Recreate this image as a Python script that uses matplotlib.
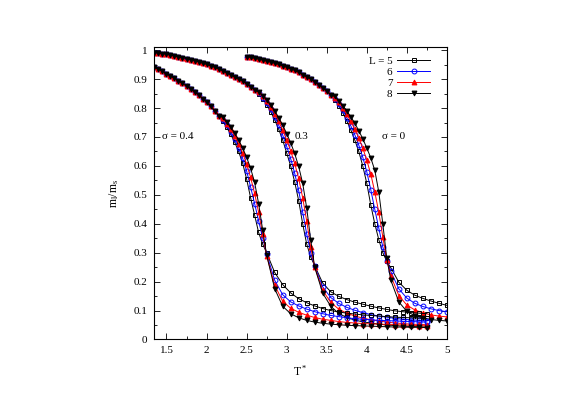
import matplotlib

matplotlib.use("Agg")
import matplotlib.pyplot as plt
from matplotlib.ticker import MultipleLocator

plt.rcParams["font.family"] = ["Liberation Serif", "DejaVu Serif"]
plt.rcParams["mathtext.fontset"] = "custom"
plt.rcParams["mathtext.rm"] = "Liberation Serif"
plt.rcParams["mathtext.it"] = "Liberation Serif:italic"

sizes = ["L = 5", "6", "7", "8"]

# sigma = 0.4
t_04 = [1.35, 1.40, 1.45, 1.50, 1.55, 1.60, 1.65, 1.70, 1.75, 1.80, 1.85, 1.90,
        1.95, 2.00, 2.05, 2.10, 2.15,
        2.20, 2.25, 2.30, 2.35, 2.40, 2.45, 2.50, 2.55, 2.60, 2.65, 2.70, 2.75,
        2.85, 2.95, 3.05, 3.15, 3.25, 3.35, 3.45, 3.55, 3.65, 3.75, 3.85, 3.95,
        4.05, 4.15, 4.25, 4.35, 4.45, 4.55, 4.65, 4.75]
top_04 = [0.941, 0.934, 0.927, 0.919, 0.911, 0.903, 0.894, 0.885, 0.876, 0.866,
          0.856, 0.845, 0.833, 0.820, 0.806, 0.791, 0.774]
m_04 = [
    [0.755, 0.734, 0.710, 0.683, 0.650, 0.610, 0.555, 0.490, 0.430, 0.370, 0.330, 0.300,
     0.232, 0.190, 0.161, 0.141, 0.127, 0.116, 0.107, 0.100, 0.095, 0.091, 0.088, 0.085,
     0.083, 0.081, 0.079, 0.077, 0.076, 0.075, 0.074, 0.073],
    [0.760, 0.740, 0.718, 0.693, 0.663, 0.627, 0.583, 0.527, 0.470, 0.410, 0.352, 0.297,
     0.205, 0.155, 0.130, 0.116, 0.105, 0.096, 0.089, 0.083, 0.079, 0.075, 0.072, 0.070,
     0.068, 0.066, 0.065, 0.064, 0.063, 0.062, 0.061, 0.060],
    [0.764, 0.746, 0.726, 0.703, 0.677, 0.645, 0.607, 0.560, 0.505, 0.440, 0.365, 0.290,
     0.188, 0.132, 0.108, 0.094, 0.084, 0.076, 0.070, 0.066, 0.062, 0.059, 0.057, 0.055,
     0.054, 0.053, 0.052, 0.051, 0.050, 0.049, 0.048, 0.047],
    [0.768, 0.752, 0.734, 0.713, 0.690, 0.662, 0.630, 0.592, 0.543, 0.470, 0.380, 0.292,
     0.176, 0.115, 0.089, 0.075, 0.066, 0.060, 0.056, 0.053, 0.051, 0.049, 0.048, 0.047,
     0.046, 0.045, 0.044, 0.043, 0.043, 0.042, 0.042, 0.041],
]

# sigma = 0.3
t_03 = [1.35, 1.40, 1.45, 1.50, 1.55, 1.60, 1.65, 1.70, 1.75, 1.80, 1.85, 1.90,
        1.95, 2.00, 2.05, 2.10, 2.15, 2.20, 2.25, 2.30, 2.35, 2.40, 2.45, 2.50,
        2.55, 2.60,
        2.65, 2.70, 2.75, 2.80, 2.85, 2.90, 2.95, 3.00, 3.05, 3.10, 3.15, 3.20,
        3.25, 3.30, 3.35,
        3.45, 3.55, 3.65, 3.75, 3.85, 3.95, 4.05, 4.15, 4.25, 4.35, 4.45, 4.55,
        4.65, 4.75]
top_03 = [0.992, 0.990, 0.988, 0.986, 0.983, 0.980, 0.977, 0.974, 0.971, 0.967,
          0.964, 0.960, 0.955, 0.951, 0.946, 0.941, 0.935, 0.929, 0.922, 0.915,
          0.907, 0.899, 0.893, 0.884, 0.874, 0.863]
m_03 = [
    [0.848, 0.832, 0.812, 0.788, 0.760, 0.727, 0.690, 0.645, 0.600, 0.545, 0.480, 0.400,
     0.330, 0.285, 0.255,
     0.195, 0.165, 0.149, 0.138, 0.129, 0.122, 0.115, 0.109, 0.104, 0.099, 0.096, 0.093,
     0.091, 0.089],
    [0.851, 0.836, 0.818, 0.796, 0.770, 0.741, 0.707, 0.668, 0.625, 0.575, 0.515, 0.440,
     0.365, 0.300, 0.253,
     0.182, 0.145, 0.125, 0.111, 0.101, 0.093, 0.086, 0.081, 0.077, 0.073, 0.070, 0.068,
     0.066, 0.064],
    [0.854, 0.840, 0.823, 0.803, 0.780, 0.754, 0.724, 0.690, 0.652, 0.609, 0.557, 0.490,
     0.410, 0.320, 0.250,
     0.170, 0.128, 0.105, 0.091, 0.081, 0.074, 0.068, 0.064, 0.060, 0.057, 0.055, 0.053,
     0.052, 0.051],
    [0.856, 0.843, 0.828, 0.810, 0.790, 0.767, 0.741, 0.712, 0.680, 0.643, 0.598, 0.540,
     0.455, 0.345, 0.250,
     0.160, 0.115, 0.090, 0.076, 0.067, 0.061, 0.057, 0.053, 0.050, 0.048, 0.046, 0.045,
     0.044, 0.043],
]

# sigma = 0
t_00 = [2.50, 2.55, 2.60, 2.65, 2.70, 2.75, 2.80, 2.85, 2.90, 2.95, 3.00, 3.05,
        3.10, 3.15, 3.20, 3.25, 3.30, 3.35, 3.40, 3.45, 3.50, 3.55,
        3.60, 3.65, 3.70, 3.75, 3.80, 3.85, 3.90, 3.95, 4.00, 4.05, 4.10, 4.15,
        4.20, 4.25, 4.30,
        4.40, 4.50, 4.60, 4.70, 4.80, 4.90, 5.00]
top_00 = [0.978, 0.975, 0.972, 0.969, 0.966, 0.962, 0.959, 0.955, 0.951, 0.946,
          0.941, 0.936, 0.930, 0.923, 0.916, 0.908, 0.900, 0.891, 0.881, 0.870,
          0.858, 0.845]
m_00 = [
    [0.828, 0.808, 0.784, 0.756, 0.725, 0.690, 0.650, 0.600, 0.540, 0.465, 0.400, 0.345,
     0.300, 0.270, 0.248,
     0.198, 0.170, 0.153, 0.142, 0.133, 0.125, 0.118],
    [0.832, 0.814, 0.792, 0.767, 0.739, 0.708, 0.672, 0.630, 0.580, 0.518, 0.450, 0.385,
     0.320, 0.272, 0.235,
     0.175, 0.143, 0.125, 0.114, 0.106, 0.100, 0.096],
    [0.836, 0.820, 0.800, 0.778, 0.754, 0.727, 0.697, 0.662, 0.620, 0.572, 0.510, 0.440,
     0.355, 0.275, 0.220,
     0.152, 0.119, 0.102, 0.092, 0.085, 0.081, 0.078],
    [0.840, 0.825, 0.808, 0.790, 0.770, 0.748, 0.722, 0.694, 0.662, 0.628, 0.585, 0.510,
     0.400, 0.280, 0.205,
     0.130, 0.097, 0.082, 0.074, 0.069, 0.066, 0.064],
]

styles = [
    dict(color="black", marker="s", mfc="none", mec="black"),
    dict(color="blue", marker="o", mfc="none", mec="blue"),
    dict(color="red", marker="^", mfc="red", mec="red"),
    dict(color="black", marker="v", mfc="black", mec="black"),
]


def plot_family(ax, temps, top, curves, with_label=False):
    for i, tail in enumerate(curves):
        ax.plot(
            temps,
            top + tail,
            lw=0.7,
            ms=3.5,
            mew=0.7,
            label=sizes[i] if with_label else None,
            **styles[i],
        )


fig = plt.figure(figsize=(5.88, 4.15), dpi=100)
ax = fig.add_axes([0.262, 0.182, 0.498, 0.704])

plot_family(ax, t_00, top_00, m_00, with_label=True)
plot_family(ax, t_03, top_03, m_03)
plot_family(ax, t_04, top_04, m_04)

ax.set_xlim(1.345, 5.0)
ax.set_ylim(0, 1.01)
ax.xaxis.set_minor_locator(MultipleLocator(0.25))
ax.yaxis.set_minor_locator(MultipleLocator(0.05))
ax.set_xticks([1.5, 2, 2.5, 3, 3.5, 4, 4.5, 5])
ax.set_xticklabels(["1.5", "2", "2.5", "3", "3.5", "4", "4.5", "5"])
ax.set_yticks([0, 0.1, 0.2, 0.3, 0.4, 0.5, 0.6, 0.7, 0.8, 0.9, 1.0])
ax.set_yticklabels(["0", "0.1", "0.2", "0.3", "0.4", "0.5", "0.6", "0.7", "0.8", "0.9", "1"])
ax.tick_params(which="both", direction="in", top=True, right=True, labelsize=8, width=0.6)
ax.tick_params(which="major", length=4, pad=5)
ax.tick_params(which="minor", length=2.5)
for sp in ax.spines.values():
    sp.set_linewidth(0.8)

ax.set_xlabel(r"T$^*$", fontsize=8.5, labelpad=6)
ax.set_ylabel(r"m$_{\rm l}$/m$_{\rm s}$", fontsize=8.5, labelpad=9)

ax.text(1.44, 0.70, "σ = 0.4", fontsize=8, va="center")
ax.text(3.19, 0.70, "0.3", fontsize=8, va="center", ha="center")
ax.text(4.34, 0.70, "σ = 0", fontsize=8, va="center", ha="center")

ax.legend(
    loc="upper right",
    bbox_to_anchor=(0.97, 0.995),
    frameon=False,
    markerfirst=False,
    fontsize=8,
    handlelength=3.0,
    handletextpad=0.4,
    labelspacing=0.1,
    borderaxespad=0.3,
)

fig.savefig("out.png", dpi=100)
